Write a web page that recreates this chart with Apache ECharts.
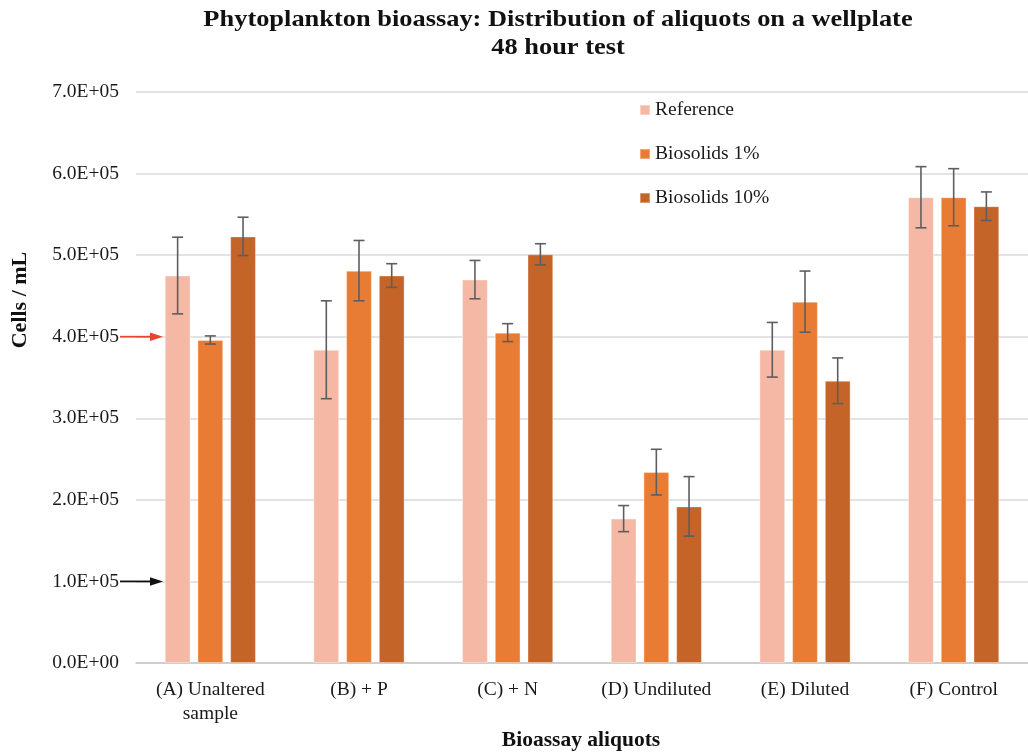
<!DOCTYPE html>
<html>
<head>
<meta charset="utf-8">
<title>Phytoplankton bioassay</title>
<script src="https://cdn.jsdelivr.net/npm/echarts@6/dist/echarts.min.js"></script>
<style>
  html, body { margin: 0; padding: 0; background: #ffffff; }
  #chart { width: 1028px; height: 753px; }
</style>
</head>
<body>
<div id="chart"></div>
<script>
// Bioassay aliquot groups
const categories = ['(A) Unaltered\nsample', '(B) + P', '(C) + N', '(D) Undiluted', '(E) Diluted', '(F) Control'];
const seriesNames = ['Reference', 'Biosolids 1%', 'Biosolids 10%'];

// Mean cell counts (cells / mL) and error half-widths
const referenceMeans = [4.75e5, 3.84e5, 4.70e5, 1.77e5, 3.84e5, 5.71e5];
const referenceErr   = [0.47e5, 0.60e5, 0.235e5, 0.16e5, 0.335e5, 0.375e5];
const bio1Means      = [3.96e5, 4.81e5, 4.05e5, 2.34e5, 4.43e5, 5.71e5];
const bio1Err        = [0.05e5, 0.37e5, 0.11e5, 0.28e5, 0.375e5, 0.35e5];
const bio10Means     = [5.23e5, 4.75e5, 5.01e5, 1.92e5, 3.46e5, 5.60e5];
const bio10Err       = [0.235e5, 0.145e5, 0.13e5, 0.365e5, 0.28e5, 0.175e5];

// Y axis tick labels, from 0 upward
const yTickLabels = ['0.0E+00', '1.0E+05', '2.0E+05', '3.0E+05', '4.0E+05', '5.0E+05', '6.0E+05', '7.0E+05'];

// Values marked with arrows at the axis
const arrowValues = [4.0e5, 1.0e5];
const arrowColors = ['#e8432d', '#111111'];

const colors = ['#f4b8a4', '#e97c35', '#c46428'];
const means = [referenceMeans, bio1Means, bio10Means];
const errs = [referenceErr, bio1Err, bio10Err];

const FONT = "'Liberation Serif', 'Times New Roman', serif";
const BAR_FRAC = 26 / 150;   // bar width relative to category band
const STEP_FRAC = 33 / 150;  // centre-to-centre distance between bars in a group

const chart = echarts.init(document.getElementById('chart'), null, { renderer: 'canvas' });

function errorSeries(k) {
  return {
    type: 'custom',
    name: seriesNames[k] + ' error',
    z: 5,
    silent: true,
    data: means[k].map((m, i) => [i, m, errs[k][i]]),
    encode: { x: 0, y: [1] },
    renderItem: function (params, api) {
      const idx = api.value(0);
      const mean = api.value(1);
      const e = api.value(2);
      const band = api.size([1, 0])[0];
      const x = api.coord([idx, 0])[0] + (k - 1) * band * STEP_FRAC;
      const yHi = api.coord([idx, mean + e])[1];
      const yLo = api.coord([idx, mean - e])[1];
      const cap = 5.5;
      const style = { stroke: '#5e5e5e', lineWidth: 1.6 };
      return {
        type: 'group',
        children: [
          { type: 'line', shape: { x1: x, y1: yHi, x2: x, y2: yLo }, style: style },
          { type: 'line', shape: { x1: x - cap, y1: yHi, x2: x + cap, y2: yHi }, style: style },
          { type: 'line', shape: { x1: x - cap, y1: yLo, x2: x + cap, y2: yLo }, style: style }
        ]
      };
    }
  };
}

const barSeries = seriesNames.map((name, k) => ({
  type: 'bar',
  name: name,
  data: means[k],
  barWidth: (BAR_FRAC * 100).toFixed(2) + '%',
  barGap: '27%',
  itemStyle: { color: colors[k], borderColor: 'rgba(255,255,255,0.35)', borderWidth: 1 },
  emphasis: { disabled: true }
}));

const option = {
  animation: false,
  backgroundColor: '#ffffff',
  textStyle: { fontFamily: FONT },
  grid: { left: 136, top: 92, width: 901, height: 571, containLabel: false },
  legend: {
    data: seriesNames,
    orient: 'vertical',
    left: 639,
    top: 100,
    padding: 0,
    icon: 'rect',
    itemWidth: 10,
    itemHeight: 10,
    itemGap: 24,
    textStyle: { fontFamily: FONT, fontSize: 19.5, color: '#1a1a1a' },
    selectedMode: false
  },
  xAxis: {
    type: 'category',
    data: categories,
    axisLine: { show: true, lineStyle: { color: '#c8c8c8', width: 1.5 } },
    axisTick: { show: false },
    axisLabel: { fontFamily: FONT, fontSize: 19.5, color: '#1a1a1a', margin: 15, lineHeight: 24, interval: 0 }
  },
  yAxis: {
    type: 'value',
    min: 0,
    max: 7e5,
    interval: 1e5,
    axisLine: { show: false },
    axisTick: { show: false },
    splitLine: { lineStyle: { color: '#dadada', width: 1.5 } },
    axisLabel: {
      fontFamily: FONT, fontSize: 19.5, color: '#1a1a1a', margin: 17,
      formatter: function (v) { return yTickLabels[Math.round(v / 1e5)]; }
    }
  },
  series: barSeries.concat([0, 1, 2].map(errorSeries)),
  graphic: [
    {
      type: 'text', id: 'title', x: 558, y: 6, scaleX: 1.1,
      style: {
        text: 'Phytoplankton bioassay: Distribution of aliquots on a wellplate\n48 hour test',
        fontFamily: FONT, fontWeight: 'bold', fontSize: 24, lineHeight: 28,
        fill: '#111111', align: 'center', verticalAlign: 'top'
      }
    },
    {
      type: 'text', id: 'yname', x: 20, y: 300, rotation: Math.PI / 2,
      style: {
        text: 'Cells / mL', fontFamily: FONT, fontWeight: 'bold', fontSize: 22,
        fill: '#111111', align: 'center', verticalAlign: 'middle'
      }
    },
    {
      type: 'text', id: 'xname', x: 581, y: 740,
      style: {
        text: 'Bioassay aliquots', fontFamily: FONT, fontWeight: 'bold', fontSize: 21.5,
        fill: '#111111', align: 'center', verticalAlign: 'middle'
      }
    }
  ]
};

chart.setOption(option);

// Arrow annotations pointing at the y axis values
const arrowGraphics = [];
arrowValues.forEach((v, i) => {
  const y = chart.convertToPixel({ yAxisIndex: 0 }, v);
  const x1 = 120, x2 = 163, head = 13, hh = 4.3;
  arrowGraphics.push({
    type: 'line', id: 'arrowLine' + i, z: 10,
    shape: { x1: x1, y1: y, x2: x2 - head + 1, y2: y },
    style: { stroke: arrowColors[i], lineWidth: 1.8 }
  });
  arrowGraphics.push({
    type: 'polygon', id: 'arrowHead' + i, z: 10,
    shape: { points: [[x2 - head, y - hh], [x2, y], [x2 - head, y + hh]] },
    style: { fill: arrowColors[i] }
  });
});
chart.setOption({ graphic: arrowGraphics });
</script>
</body>
</html>
